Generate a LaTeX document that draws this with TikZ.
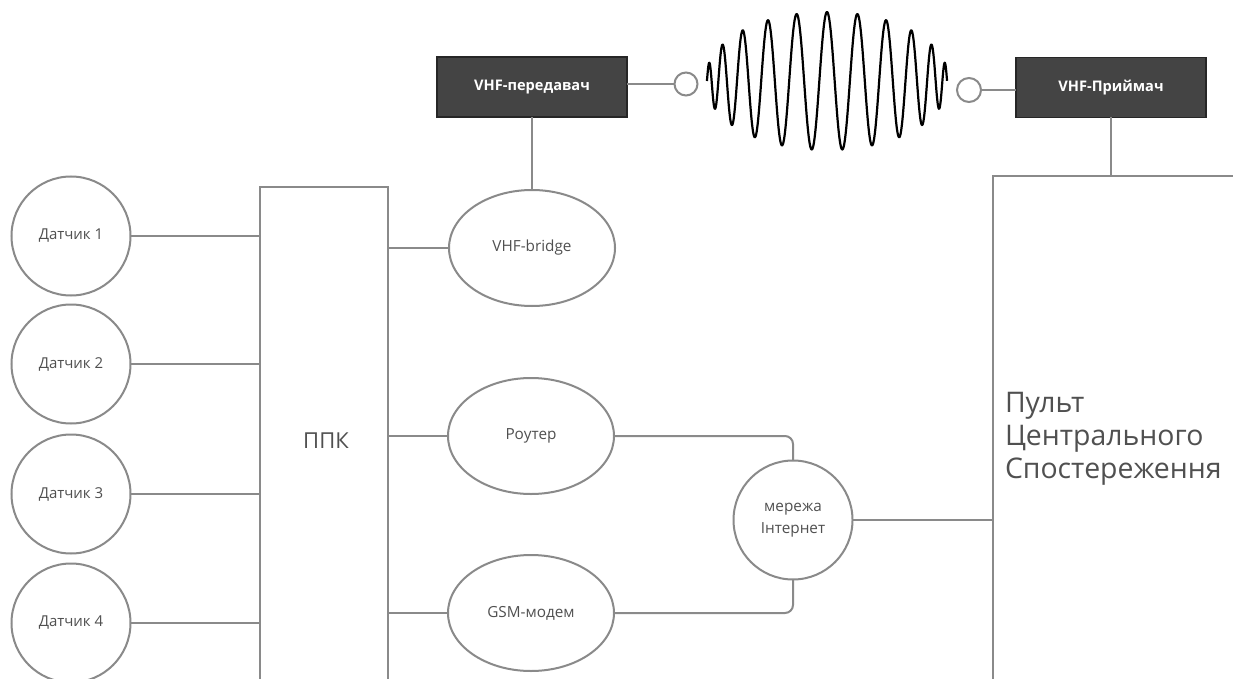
\documentclass[tikz,border=0pt]{standalone}
\usepackage{fontspec}
\setmainfont{Open Sans}
\usetikzlibrary{shapes.geometric}
\definecolor{lg}{RGB}{138,138,138}
\definecolor{tg}{RGB}{80,80,80}
\definecolor{bx}{RGB}{68,68,68}
\tikzset{
  every node/.style={inner sep=0pt, outer sep=0pt, text=tg},
  conn/.style={draw=lg, line width=2pt},
  sensor/.style={circle, draw=lg, line width=2pt, minimum size=119pt, font=\fontsize{15}{17}\selectfont},
  oval/.style={ellipse, draw=lg, line width=2pt, minimum width=166pt, minimum height=116pt, font=\fontsize{15.3}{17}\selectfont},
  darkbox/.style={rectangle, draw=black!85, fill=bx, line width=1.6pt, minimum width=190pt, minimum height=60pt, text=white, font=\fontsize{14.6}{17}\selectfont\bfseries},
  tiny/.style={circle, draw=lg, line width=2pt, fill=white},
  openbox/.style={rectangle, draw=lg, line width=2pt},
}
\begin{document}
\begin{tikzpicture}[x={(1pt,0)}, y={(0,-1pt)}]
\useasboundingbox[fill=white] (0,0) rectangle (1233,679);

% sensors
\node[sensor] (s1) at (71,236) {Датчик 1};
\node[sensor] (s2) at (71,364) {Датчик 2};
\node[sensor] (s3) at (71,494) {Датчик 3};
\node[sensor] (s4) at (71,623) {Датчик 4};

% PPK (open at bottom, beyond the page)
\node[openbox, minimum width=128pt, minimum height=530pt, anchor=north west] (ppk) at (260,187) {};
\node[font=\fontsize{22}{24}\selectfont] (ppkt) at (326,441) {ППК};

% right side devices
\node[oval] (vb) at (532,248) {VHF-bridge};
\node[oval] (ro) at (531,436) {Роутер};
\node[oval] (gm) at (531,613) {GSM-модем};
\node[circle, draw=lg, line width=2pt, minimum size=119pt, align=center, font=\fontsize{15.3}{22}\selectfont] (net) at (793,520) {мережа\\Інтернет};

% VHF boxes
\node[darkbox] (vt) at (532,87) {VHF-передавач};
\node[darkbox] (vr) at (1111,87.5) {VHF-Приймач};
\node[tiny, minimum size=23pt] (c1) at (686,84) {};
\node[tiny, minimum size=24pt] (c2) at (969,90) {};

% monitoring station (open to the right and bottom)
\node[openbox, minimum width=300pt, minimum height=560pt, anchor=north west] (pult) at (993,176) {};
\node[anchor=west, align=left, font=\fontsize{28.4}{33}\selectfont] (pultt) at (1005,439) {Пульт\\Центрального\\Спостереження};

% connectors
\foreach \s in {s1,s2,s3,s4}{
  \draw[conn] (\s.east) -- (\s.east -| ppk.west);
}
\draw[conn] (vb.west -| ppk.east) -- (vb.west);
\draw[conn] (ro.west -| ppk.east) -- (ro.west);
\draw[conn] (gm.west -| ppk.east) -- (gm.west);
\draw[conn] (vt.south) -- (vb.north);
\draw[conn] (vt.east |- c1) -- (c1.west);
\draw[conn] (c2.east) -- (c2.east -| vr.west);
\draw[conn] (vr.south) -- (vr.south |- pult.north);
\draw[conn, rounded corners=8pt] (ro.east) -| (net.north);
\draw[conn, rounded corners=8pt] (gm.east) -| (net.south);
\draw[conn] (net.east) -- (net.east -| pult.west);

% radio wave
\draw[black, line width=2.2pt, line join=round] plot[domain=-1.05:1.05, samples=700, smooth]
  ({827+118*(1.3*\x-0.3*\x*\x*\x)}, {81-69*(1-0.74*\x*\x)*cos(1800*\x)});
\end{tikzpicture}
\end{document}
